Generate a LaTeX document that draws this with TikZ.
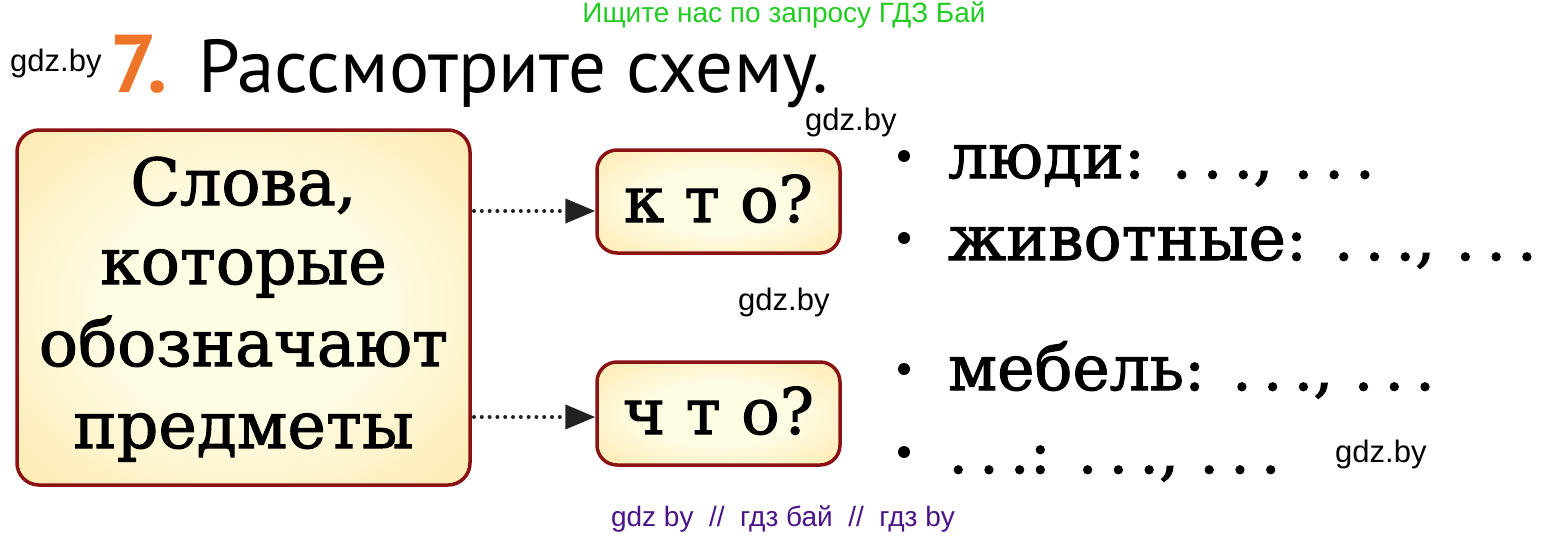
\documentclass[tikz,border=0pt]{standalone}
\usepackage{fontspec}
\setmainfont{DejaVu Serif}[FakeBold=1.6]
\newfontfamily\wmfont{Liberation Sans}
\newfontfamily\ttlfont{PT Sans}
\usetikzlibrary{arrows.meta}
\definecolor{boxred}{HTML}{8A1212}
\definecolor{fillin}{HTML}{FFFCE4}
\definecolor{fillmid}{HTML}{FDEBB4}
\definecolor{fillout}{HTML}{F8D27C}
\definecolor{fillcorner}{HTML}{F5CA6C}
\definecolor{wmgreen}{HTML}{22CC22}
\definecolor{wmpurple}{HTML}{4B1487}
\definecolor{numorange}{HTML}{EE7429}
\definecolor{arrowdark}{HTML}{222222}
\pgfdeclareradialshading{boxshade}{\pgfpoint{0bp}{0bp}}{color(0bp)=(fillin); color(16bp)=(fillin); color(34bp)=(fillmid); color(47bp)=(fillout); color(70bp)=(fillcorner)}
\newcommand\mydots{.\kern.17em.\kern.17em.}
\tikzset{
  boxstyle/.style={draw=boxred, line width=3.5pt, rounded corners=22pt,
    shading=boxshade, inner sep=0pt},
  dotarrow/.style={arrowdark, line width=4pt, line cap=round,
    dash pattern=on 0pt off 7.8pt, -{Triangle[length=30pt,width=24pt]}},
  bulletdot/.style={circle, fill=black, minimum size=12pt, inner sep=0pt},
  itemtext/.style={anchor=base west, inner sep=0pt, font=\fontsize{63}{66}\selectfont},
  wm/.style={font=\wmfont\fontsize{31}{32}\selectfont, inner sep=0pt},
  boxtext/.style={inner sep=0pt, anchor=base, font=\fontsize{65}{70}\selectfont},
}
\begin{document}
\begin{tikzpicture}[x=1pt,y=-1pt]
\useasboundingbox (0,0) rectangle (1568,536);
\fill[white] (0,0) rectangle (1568,536);

% header
\node[font=\wmfont\fontsize{28}{29}\selectfont, text=wmgreen, inner sep=0pt] (top) at (784,15) {Ищите нас по запросу ГДЗ Бай};
\node[wm, anchor=base west] (w1) at (10,71) {gdz.by};
\node[anchor=base west, inner sep=0pt, text=numorange, font=\ttlfont\bfseries\fontsize{82}{84}\selectfont] (num) at (110,92) {7.};
\node[anchor=base west, inner sep=0pt, font=\ttlfont\fontsize{75}{80}\selectfont] (title) at (198,92) {Рассмотрите схему.};
\node[wm, anchor=base west] (w2) at (805,130) {gdz.by};

% main box
\node[boxstyle, minimum width=453pt, minimum height=355pt] (main) at (243.5,307.5) {};
\node[boxtext] (l1) at (243.5,205) {Слова,};
\node[boxtext] (l2) at (243.5,284) {которые};
\node[boxtext] (l3) at (243.5,366) {обозначают};
\node[boxtext] (l4) at (243.5,448) {предметы};

% question boxes
\node[boxstyle, minimum width=243pt, minimum height=103pt, rounded corners=20pt] (kto) at (718.5,201.5) {};
\node[inner sep=0pt, anchor=base, font=\fontsize{64}{70}\selectfont] (ktot) at (718.5,222) {к т о?};
\node[boxstyle, minimum width=243pt, minimum height=103pt, rounded corners=20pt] (chto) at (718.5,413.5) {};
\node[inner sep=0pt, anchor=base, font=\fontsize{64}{70}\selectfont] (chtot) at (718.5,434) {ч т о?};

% arrows
\coordinate (a1) at (474,211);
\coordinate (a2) at (474,417);
\draw[dotarrow] (a1) -- (kto.west |- a1);
\draw[dotarrow] (a2) -- (chto.west |- a2);

\node[wm, anchor=base west] (w3) at (738,310) {gdz.by};

% bullet list
\node[bulletdot] (b1) at (904,156) {};
\node[bulletdot] (b2) at (904,238) {};
\node[bulletdot] (b3) at (904,369) {};
\node[bulletdot] (b4) at (904,452) {};
\node[itemtext] (t1) at (948,178) {люди: \mydots, \mydots};
\node[itemtext] (t2) at (948,260) {животные: \mydots, \mydots};
\node[itemtext] (t3) at (948,390) {мебель: \mydots, \mydots};
\node[itemtext] (t4) at (948,473) {\mydots: \mydots, \mydots};

\node[wm, anchor=base west] (w4) at (1335,462) {gdz.by};

% footer
\node[font=\wmfont\fontsize{28}{30}\selectfont, text=wmpurple, inner sep=0pt] (bot) at (783,519) {gdz by\ \ //\ \ гдз бай\ \ //\ \ гдз by};
\end{tikzpicture}
\end{document}
